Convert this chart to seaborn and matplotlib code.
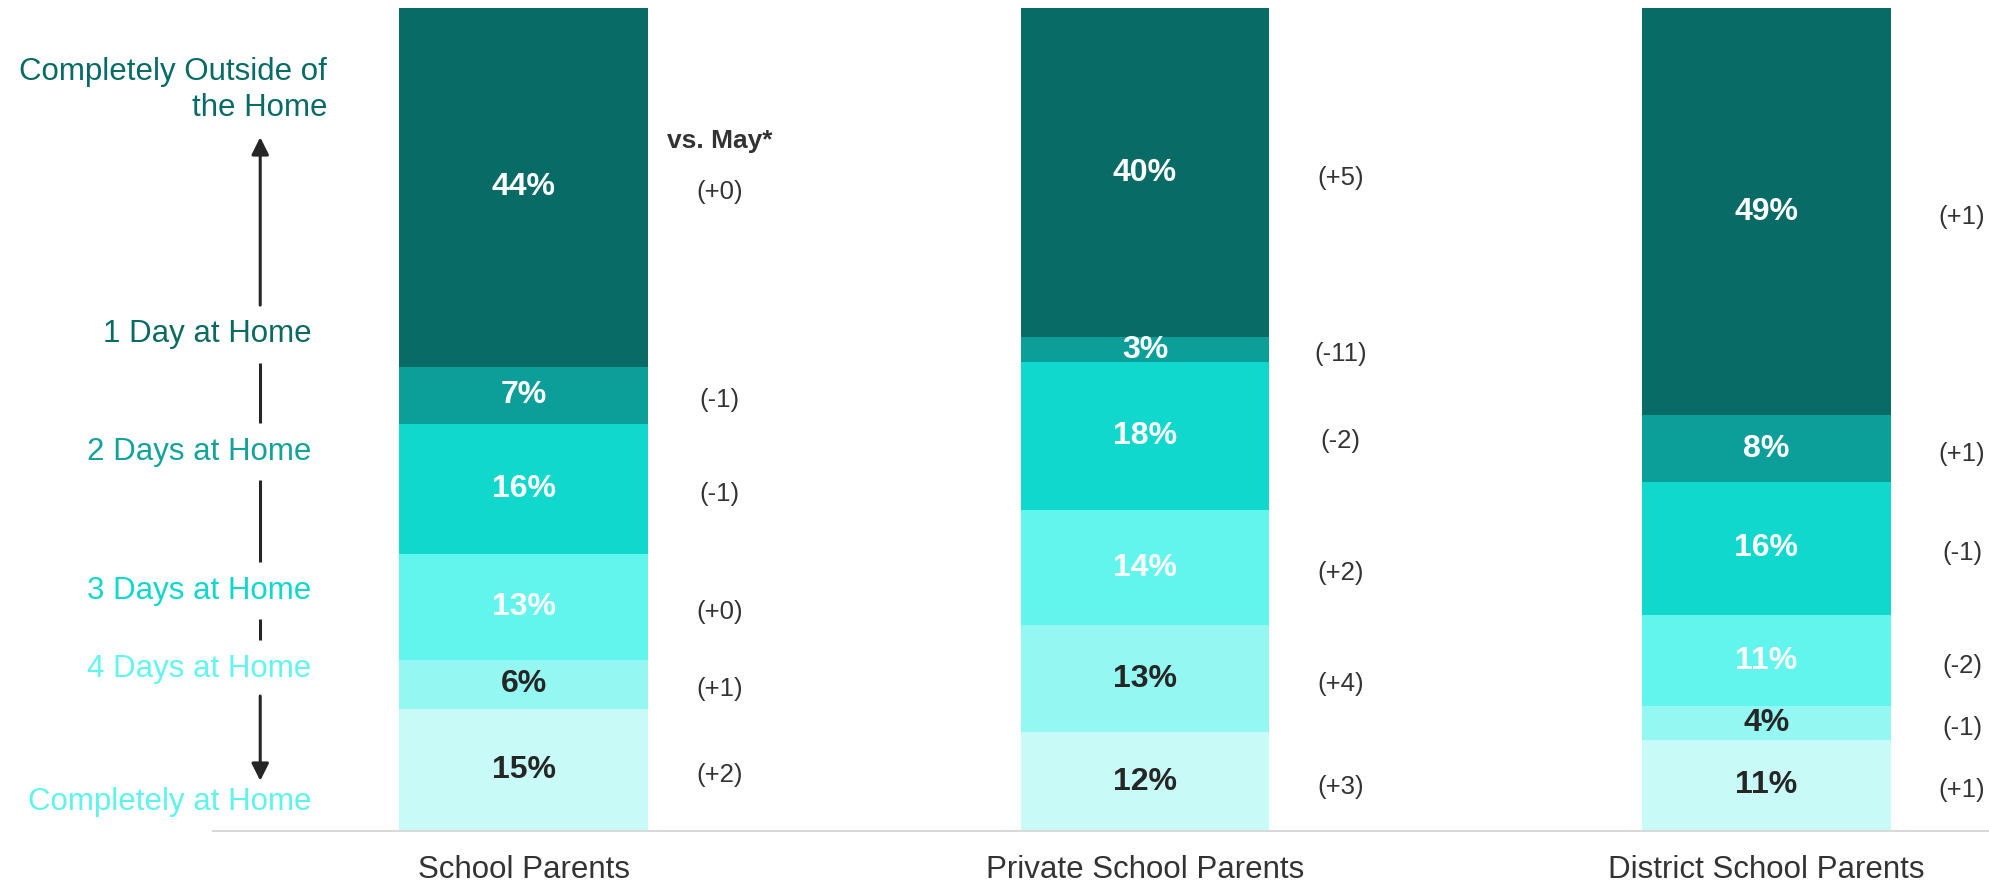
import numpy as np
import seaborn as sns
import matplotlib.pyplot as plt

# categories (bars) and levels (stack order, bottom to top)
groups = ["School Parents", "Private School Parents", "District School Parents"]
levels = ["Completely at Home", "4 Days at Home", "3 Days at Home",
          "2 Days at Home", "1 Day at Home", "Completely Outside of\nthe Home"]

# shares in %, bottom to top
school_parents = [15, 6, 13, 16, 7, 44]
private_parents = [12, 13, 14, 18, 3, 40]
district_parents = [11, 4, 11, 16, 8, 49]

# change vs. May, bottom to top
school_vs_may = ["(+2)", "(+1)", "(+0)", "(-1)", "(-1)", "(+0)"]
private_vs_may = ["(+3)", "(+4)", "(+2)", "(-2)", "(-11)", "(+5)"]
district_vs_may = ["(+1)", "(-1)", "(-2)", "(-1)", "(+1)", "(+1)"]

seg_colors = ["#c8fbf7", "#95f7f2", "#62f5ee", "#10d8cc", "#0c9e98", "#086b65"]
pct_colors = ["#262626", "#262626", "white", "white", "white", "white"]
level_text_colors = ["#5ef4ec", "#62f5ee", "#10d8cc", "#13a39b", "#0b6b63", "#086b65"]
level_label_y = [3.5, 19.7, 29.2, 46.1, 60.4, 90.0]

sns.set_theme(style="white")
plt.rcParams['font.family'] = ['Liberation Sans', 'DejaVu Sans']

fig = plt.figure(figsize=(19.9, 8.83), dpi=100)
ax = fig.add_axes([213 / 1990, 1 - 831 / 883, 1 - 213 / 1990, 823 / 883])

raw = np.array([school_parents, private_parents, district_parents], dtype=float)
shares = raw / raw.sum(axis=1, keepdims=True) * 100
cum = shares.cumsum(axis=1)
deltas = [school_vs_may, private_vs_may, district_vs_may]

# stacked bars: draw cumulative totals from the top level down
for i in reversed(range(len(levels))):
    sns.barplot(x=groups, y=cum[:, i], color=seg_colors[i], width=0.4,
                saturation=1, linewidth=0, errorbar=None, ax=ax)

for g in range(len(groups)):
    for i in range(len(levels)):
        center = cum[g, i] - shares[g, i] / 2
        ax.text(g, center, f"{int(raw[g, i])}%", ha='center', va='center',
                fontsize=23, fontweight='bold', color=pct_colors[i])
        ax.text(g + 0.315, center - 0.6, deltas[g][i], ha='center', va='center',
                fontsize=18.5, color='#333333')

top_center = cum[0, -1] - shares[0, -1] / 2
ax.text(0.315, top_center + 5.6, "vs. May*", ha='center', va='center',
        fontsize=19, fontweight='bold', color='#333333')

# left scale labels and arrow
label_x = -0.342
arrow_x = -0.424
for i, lab in enumerate(levels):
    x = label_x + (0.026 if i == len(levels) - 1 else 0)
    ax.text(x, level_label_y[i], lab, ha='right', va='center', ma='right',
            fontsize=22.5, color=level_text_colors[i], linespacing=1.25,
            clip_on=False)

gap = 3.5
arrow_kw = dict(arrowstyle='-|>', color='#262626', lw=2.2, mutation_scale=26,
                shrinkA=0, shrinkB=0)
ax.annotate("", xy=(arrow_x, level_label_y[5] - 5.7),
            xytext=(arrow_x, level_label_y[4] + gap),
            arrowprops=arrow_kw, annotation_clip=False)
for lo, hi in [(3, 4), (2, 3), (1, 2)]:
    ax.plot([arrow_x, arrow_x], [level_label_y[lo] + gap, level_label_y[hi] - gap],
            color='#262626', lw=2.2, clip_on=False, solid_capstyle='butt')
ax.annotate("", xy=(arrow_x, level_label_y[0] + 2.6),
            xytext=(arrow_x, level_label_y[1] - 3.3),
            arrowprops=arrow_kw, annotation_clip=False)

ax.set_ylim(0, 100)
ax.set_xlim(-0.5, 2.36)
ax.set_yticks([])
ax.set_xlabel('')
ax.set_ylabel('')
sns.despine(ax=ax, left=True)
ax.spines['bottom'].set_color('#d9d9d9')
ax.spines['bottom'].set_linewidth(1.5)
ax.tick_params(axis='x', length=0, pad=17, labelsize=22.5, labelcolor='#333333')

fig.savefig("out.png", dpi=100)
